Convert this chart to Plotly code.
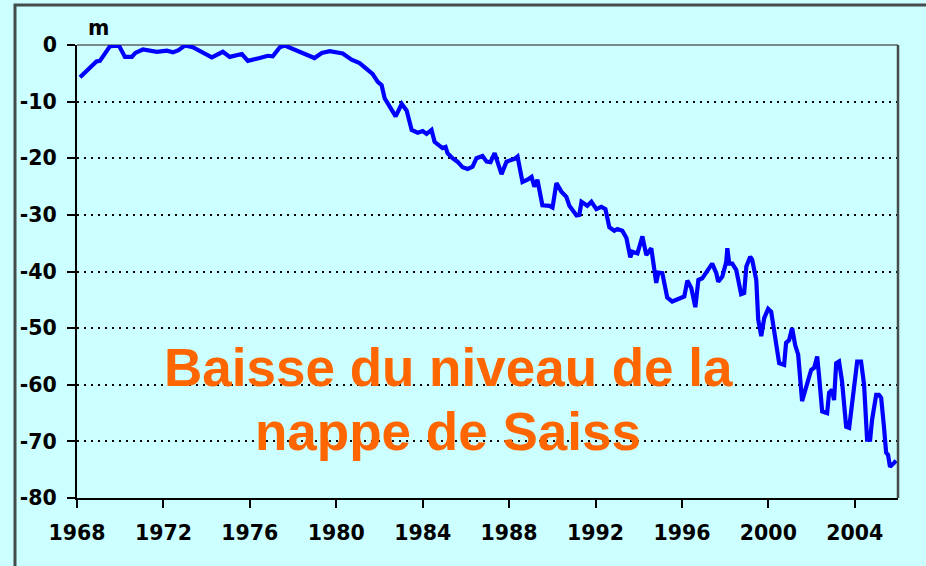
import plotly.graph_objects as go

years = [1968.14, 1968.37, 1968.74, 1968.90, 1969.06, 1969.34, 1969.53, 1969.94, 1970.22, 1970.54,
         1970.70, 1971.05, 1971.70, 1972.16, 1972.44, 1972.70, 1972.99, 1973.36, 1973.83, 1974.24,
         1974.75, 1975.07, 1975.63, 1975.91, 1976.46, 1976.83, 1977.06, 1977.39, 1977.62, 1978.17,
         1978.63, 1978.99, 1979.33, 1979.70, 1980.30, 1980.71, 1981.08, 1981.41, 1981.68, 1981.92,
         1982.10, 1982.24, 1982.47, 1982.75, 1983.03, 1983.26, 1983.49, 1983.77, 1984.00, 1984.18,
         1984.41, 1984.55, 1984.92, 1985.06, 1985.15, 1985.38, 1985.61, 1985.85, 1986.08, 1986.31,
         1986.49, 1986.77, 1986.96, 1987.14, 1987.33, 1987.65, 1987.88, 1988.25, 1988.39, 1988.62,
         1988.85, 1989.04, 1989.17, 1989.31, 1989.54, 1989.87, 1990.01, 1990.19, 1990.42, 1990.65,
         1990.79, 1991.12, 1991.25, 1991.35, 1991.62, 1991.81, 1992.04, 1992.27, 1992.46, 1992.64,
         1992.87, 1993.01, 1993.24, 1993.43, 1993.61, 1993.70, 1993.94, 1994.17, 1994.35, 1994.58,
         1994.81, 1994.91, 1995.09, 1995.32, 1995.55, 1995.97, 1996.11, 1996.25, 1996.43, 1996.62,
         1996.76, 1996.94, 1997.13, 1997.27, 1997.40, 1997.59, 1997.68, 1997.87, 1998.05, 1998.10,
         1998.19, 1998.33, 1998.51, 1998.74, 1998.88, 1998.98, 1999.16, 1999.25, 1999.44, 1999.53,
         1999.67, 1999.81, 1999.99, 2000.13, 2000.27, 2000.36, 2000.50, 2000.73, 2000.82, 2000.96,
         2001.10, 2001.24, 2001.38, 2001.56, 2001.80, 2001.98, 2002.12, 2002.26, 2002.35, 2002.49,
         2002.72, 2002.81, 2002.95, 2003.04, 2003.14, 2003.27, 2003.41, 2003.60, 2003.74, 2003.88,
         2004.01, 2004.11, 2004.29, 2004.43, 2004.57, 2004.71, 2004.80, 2004.99, 2005.12, 2005.22,
         2005.35, 2005.45, 2005.54, 2005.63, 2005.82, 2005.91]

level_m = [-5.7, -4.8, -3.6, -2.9, -2.8, -1.4, -0.2, -0.1, -2.1, -2.1,
           -1.4, -0.8, -1.2, -1.0, -1.3, -0.9, -0.1, -0.4, -1.4, -2.2,
           -1.2, -2.1, -1.6, -2.8, -2.3, -1.9, -2.0, -0.4, -0.1, -1.0,
           -1.8, -2.3, -1.4, -1.1, -1.5, -2.6, -3.2, -4.2, -5.1, -6.5,
           -7.1, -9.4, -11.0, -12.6, -10.4, -11.6, -15.0, -15.5, -15.2, -15.7,
           -15.0, -17.1, -18.2, -18.0, -19.1, -20.0, -20.6, -21.6, -21.9, -21.5,
           -20.0, -19.6, -20.6, -20.7, -19.1, -22.8, -20.6, -20.1, -19.7, -24.2,
           -23.8, -23.3, -25.0, -23.8, -28.3, -28.4, -28.7, -24.4, -25.9, -26.8,
           -28.4, -30.1, -30.0, -27.7, -28.4, -27.7, -29.0, -28.6, -29.0, -32.2,
           -32.8, -32.5, -32.8, -34.1, -37.5, -36.5, -36.8, -33.8, -37.1, -35.9,
           -42.0, -40.2, -40.3, -44.6, -45.3, -44.7, -44.4, -41.6, -42.9, -46.3,
           -41.5, -41.2, -40.0, -39.4, -38.6, -40.3, -41.8, -40.9, -38.3, -35.9,
           -38.6, -38.6, -39.7, -44.0, -43.8, -39.1, -37.4, -37.9, -41.5, -48.5,
           -51.4, -48.2, -46.6, -47.1, -50.8, -52.4, -56.2, -56.5, -52.6, -52.1,
           -50.0, -53.0, -54.7, -62.9, -60.0, -57.4, -57.0, -55.0, -58.6, -64.7,
           -65.0, -61.4, -60.9, -62.7, -56.2, -55.9, -59.4, -67.4, -67.6, -63.1,
           -60.3, -55.9, -55.9, -60.0, -69.7, -69.7, -66.2, -61.8, -61.8, -62.3,
           -67.4, -72.0, -72.4, -74.5, -73.8, -73.4]

x_ticks = [1968, 1972, 1976, 1980, 1984, 1988, 1992, 1996, 2000, 2004]
y_ticks = [0, -10, -20, -30, -40, -50, -60, -70, -80]
y_tick_labels = ["0", "-10", "-20", "-30", "-40", "-50", "-60", "-70", "-80"]

unit_label = "m"
title_line1 = "Baisse du niveau de la"
title_line2 = "nappe de Saiss"

W, H = 926, 566
L, R, T, B = 77, 28, 45, 68
pw, ph = W - L - R, H - T - B

def px_x(p):
    return (p - L) / pw

def px_y(p):
    return (H - B - p) / ph

tick_font = dict(family="DejaVu Sans", size=20.5, color="black", weight="bold")

fig = go.Figure()
fig.add_trace(go.Scatter(x=years, y=level_m, mode="lines",
                         line=dict(color="#0000FF", width=4.2), hoverinfo="skip"))

fig.update_layout(
    width=W, height=H,
    margin=dict(l=L, r=R, t=T, b=B),
    paper_bgcolor="#CCFFFF", plot_bgcolor="#CCFFFF",
    showlegend=False,
    xaxis=dict(range=[1968, 2006], tickvals=x_ticks, ticks="outside", ticklen=8,
               tickwidth=2, tickcolor="black", showline=True, linecolor="black",
               linewidth=2, showgrid=False, zeroline=False, tickfont=tick_font,
               ticklabelstandoff=7),
    yaxis=dict(range=[-80, 0], tickvals=y_ticks, ticktext=y_tick_labels,
               ticks="outside", ticklen=8, tickwidth=2, tickcolor="black",
               showline=True, linecolor="black", linewidth=2,
               showgrid=True, gridcolor="black", gridwidth=2, griddash="2px,5px",
               zeroline=False, tickfont=tick_font, ticklabelstandoff=6),
)

border = "#444c4c"
# chart area border (top and left)
fig.add_shape(type="rect", xref="paper", yref="paper", layer="above",
              x0=px_x(15), x1=px_x(W + 20), y0=px_y(5), y1=px_y(H + 20),
              line=dict(color=border, width=3), fillcolor="rgba(0,0,0,0)")
# plot area border (top and right)
fig.add_shape(type="line", xref="paper", yref="paper", layer="below",
              x0=0, x1=1, y0=1, y1=1, line=dict(color="#7a8a8a", width=2))
fig.add_shape(type="line", xref="paper", yref="paper",
              x0=1, x1=1, y0=0, y1=1, line=dict(color=border, width=2.5))

fig.add_annotation(text=unit_label, xref="paper", yref="paper",
                   x=px_x(98), y=px_y(28), xanchor="center", yanchor="middle",
                   showarrow=False,
                   font=dict(family="DejaVu Sans", size=20.5, color="black", weight="bold"))
title_font = dict(family="Liberation Sans", size=53, color="#FF6600", weight="bold")
fig.add_annotation(text=title_line1, xref="paper", yref="paper",
                   x=px_x(448), y=px_y(367), xanchor="center", yanchor="middle",
                   showarrow=False, font=title_font)
fig.add_annotation(text=title_line2, xref="paper", yref="paper",
                   x=px_x(448), y=px_y(431), xanchor="center", yanchor="middle",
                   showarrow=False, font=title_font)

fig.write_html("out.html", config={"displayModeBar": False},
               post_script="document.body.style.margin='0';document.body.style.padding='0';")
